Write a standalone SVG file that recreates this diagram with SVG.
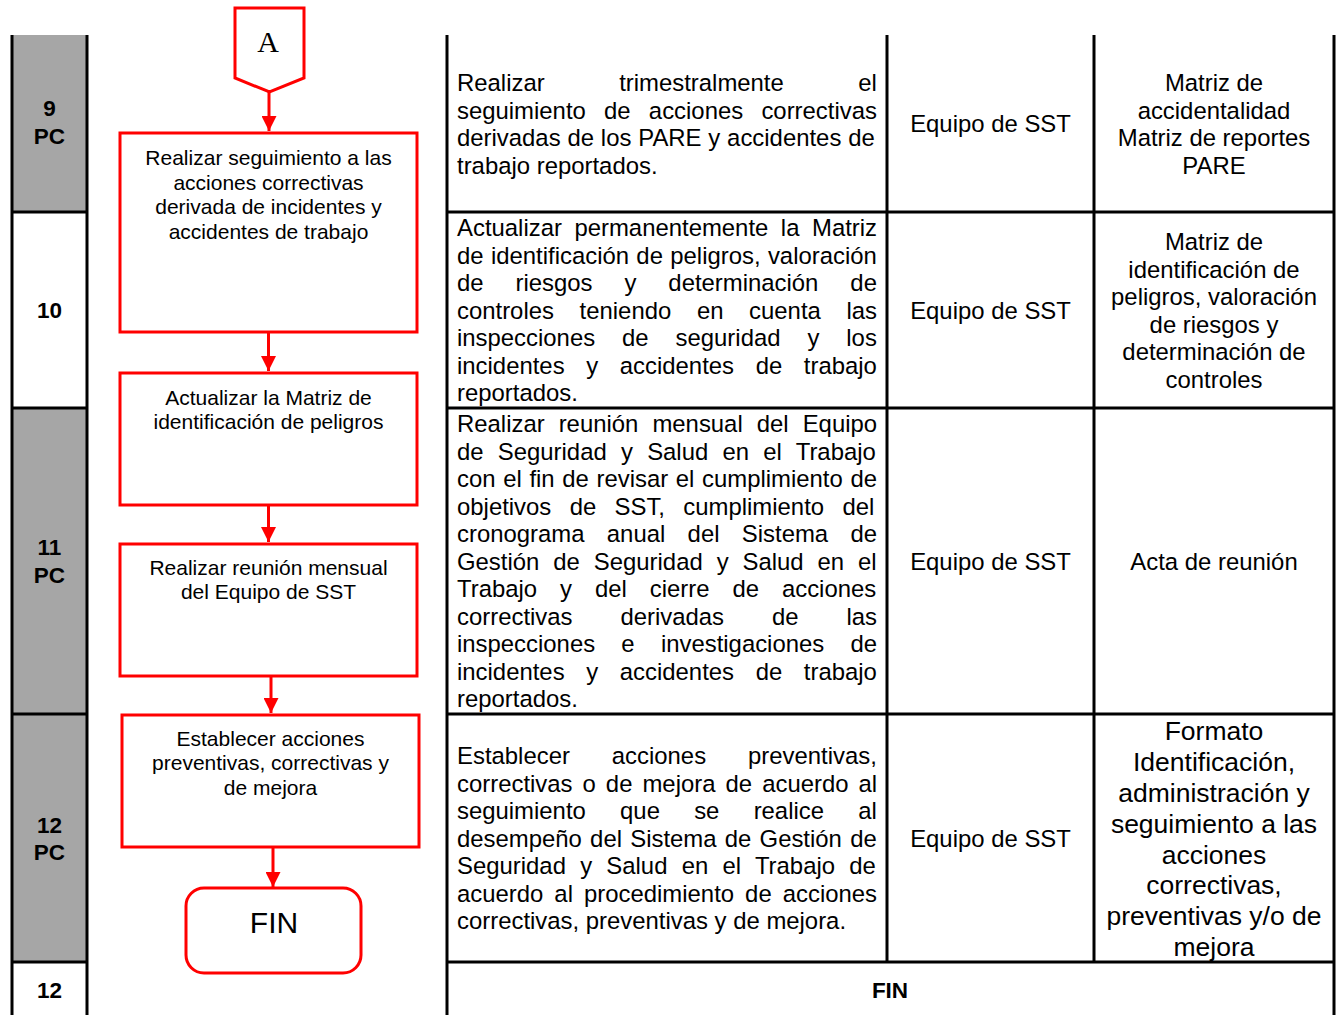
<svg xmlns="http://www.w3.org/2000/svg" width="1341" height="1015" viewBox="0 0 1341 1015">
<style>
.grid{stroke:#000;stroke-width:3;fill:none}
.gray{fill:#A6A6A6}
.node{fill:#fff;stroke:#FF0000;stroke-width:3}
.conn{stroke:#FF0000;stroke-width:3;fill:none}
.lbl{font-family:"Liberation Sans",Arial,sans-serif;font-weight:bold;font-size:22.5px;fill:#000;text-anchor:middle}
.bx{font-family:"Liberation Sans",Arial,sans-serif;font-size:21px;fill:#000;text-anchor:middle}
.desc{font-family:"Liberation Sans",Arial,sans-serif;font-size:23.9px;fill:#000}
.ctr{font-family:"Liberation Sans",Arial,sans-serif;font-size:23.9px;fill:#000;text-anchor:middle}
.big{font-family:"Liberation Sans",Arial,sans-serif;font-size:26.5px;fill:#000;text-anchor:middle}
</style>
<defs>
<marker id="ah" markerWidth="5" markerHeight="5" refX="5" refY="2.5" orient="auto" markerUnits="strokeWidth">
<path d="M0,0 L5,2.5 L0,5 Z" fill="#FF0000"/>
</marker>
</defs>
<rect width="1341" height="1015" fill="#fff"/>
<g id="table">
<rect class="gray" x="12" y="35" width="75" height="177"/>
<rect class="gray" x="12" y="408" width="75" height="554"/>
<path class="grid" d="M12,35 V1015 M87,35 V1015 M447,35 V1015 M887,35 V962 M1094,35 V962 M1334,35 V1015"/>
<path class="grid" d="M12,212 H87 M12,408 H87 M12,714 H87 M12,962 H87 M447,212 H1334 M447,408 H1334 M447,714 H1334 M447,962 H1334"/>
</g>
<g id="step-labels">
<text class="lbl" x="49.5" y="116">9</text>
<text class="lbl" x="49.5" y="144">PC</text>
<text class="lbl" x="49.5" y="318">10</text>
<text class="lbl" x="49.5" y="555">11</text>
<text class="lbl" x="49.5" y="583">PC</text>
<text class="lbl" x="49.5" y="833">12</text>
<text class="lbl" x="49.5" y="860">PC</text>
<text class="lbl" x="49.5" y="998">12</text>
<text class="lbl" x="890" y="998">FIN</text>
</g>
<g id="descriptions">
<text class="desc" x="457" y="91" style="word-spacing:67.9px">Realizar trimestralmente el</text>
<text class="desc" x="457" y="118.5" style="word-spacing:11.6px">seguimiento de acciones correctivas</text>
<text class="desc" x="457" y="146" style="word-spacing:0.2px">derivadas de los PARE y accidentes de</text>
<text class="desc" x="457" y="173.5">trabajo reportados.</text>

<text class="desc" x="457" y="236" style="word-spacing:5.9px">Actualizar permanentemente la Matriz</text>
<text class="desc" x="457" y="263.5" style="word-spacing:0.7px">de identificación de peligros, valoración</text>
<text class="desc" x="457" y="291" style="word-spacing:25.3px">de riesgos y determinación de</text>
<text class="desc" x="457" y="318.5" style="word-spacing:19px">controles teniendo en cuenta las</text>
<text class="desc" x="457" y="346" style="word-spacing:20.3px">inspecciones de seguridad y los</text>
<text class="desc" x="457" y="373.5" style="word-spacing:15px">incidentes y accidentes de trabajo</text>
<text class="desc" x="457" y="401">reportados.</text>

<text class="desc" x="457" y="432" style="word-spacing:7.4px">Realizar reunión mensual del Equipo</text>
<text class="desc" x="457" y="459.5" style="word-spacing:7.6px">de Seguridad y Salud en el Trabajo</text>
<text class="desc" x="457" y="487" style="word-spacing:1px">con el fin de revisar el cumplimiento de</text>
<text class="desc" x="457" y="514.5" style="word-spacing:11.7px">objetivos de SST, cumplimiento del</text>
<text class="desc" x="457" y="542" style="word-spacing:15.7px">cronograma anual del Sistema de</text>
<text class="desc" x="457" y="569.5" style="word-spacing:7.3px">Gestión de Seguridad y Salud en el</text>
<text class="desc" x="457" y="597" style="word-spacing:16.3px">Trabajo y del cierre de acciones</text>
<text class="desc" x="457" y="624.5" style="word-spacing:41.3px">correctivas derivadas de las</text>
<text class="desc" x="457" y="652" style="word-spacing:19.6px">inspecciones e investigaciones de</text>
<text class="desc" x="457" y="679.5" style="word-spacing:15px">incidentes y accidentes de trabajo</text>
<text class="desc" x="457" y="707">reportados.</text>

<text class="desc" x="457" y="764" style="word-spacing:35.3px">Establecer acciones preventivas,</text>
<text class="desc" x="457" y="791.5" style="word-spacing:3.4px">correctivas o de mejora de acuerdo al</text>
<text class="desc" x="457" y="819" style="word-spacing:27.6px">seguimiento que se realice al</text>
<text class="desc" x="457" y="846.5" style="word-spacing:1.6px">desempeño del Sistema de Gestión de</text>
<text class="desc" x="457" y="874" style="word-spacing:7.6px">Seguridad y Salud en el Trabajo de</text>
<text class="desc" x="457" y="901.5" style="word-spacing:4.4px">acuerdo al procedimiento de acciones</text>
<text class="desc" x="457" y="929">correctivas, preventivas y de mejora.</text>
</g>
<g id="responsables">
<text class="ctr" x="990.5" y="132">Equipo de SST</text>
<text class="ctr" x="990.5" y="319">Equipo de SST</text>
<text class="ctr" x="990.5" y="570">Equipo de SST</text>
<text class="ctr" x="990.5" y="847">Equipo de SST</text>
</g>
<g id="registros">
<text class="ctr" x="1214" y="91">Matriz de</text>
<text class="ctr" x="1214" y="118.5">accidentalidad</text>
<text class="ctr" x="1214" y="146">Matriz de reportes</text>
<text class="ctr" x="1214" y="173.5">PARE</text>
<text class="ctr" x="1214" y="250">Matriz de</text>
<text class="ctr" x="1214" y="277.5">identificación de</text>
<text class="ctr" x="1214" y="305">peligros, valoración</text>
<text class="ctr" x="1214" y="332.5">de riesgos y</text>
<text class="ctr" x="1214" y="360">determinación de</text>
<text class="ctr" x="1214" y="387.5">controles</text>
<text class="ctr" x="1214" y="570">Acta de reunión</text>
<text class="big" x="1214" y="740">Formato</text>
<text class="big" x="1214" y="771">Identificación,</text>
<text class="big" x="1214" y="802">administración y</text>
<text class="big" x="1214" y="833">seguimiento a las</text>
<text class="big" x="1214" y="863.5">acciones</text>
<text class="big" x="1214" y="894">correctivas,</text>
<text class="big" x="1214" y="925">preventivas y/o de</text>
<text class="big" x="1214" y="955.5">mejora</text>
</g>
<g id="connectors">
<line class="conn" x1="269" y1="92" x2="269" y2="131" marker-end="url(#ah)"/>
<line class="conn" x1="268.5" y1="332" x2="268.5" y2="371" marker-end="url(#ah)"/>
<line class="conn" x1="268.5" y1="505" x2="268.5" y2="542" marker-end="url(#ah)"/>
<line class="conn" x1="271" y1="676" x2="271" y2="713" marker-end="url(#ah)"/>
<line class="conn" x1="273" y1="847" x2="273" y2="887" marker-end="url(#ah)"/>
</g>
<g id="node-A">
<polygon class="node" points="235,8 304,8 304,78 269.5,92 235,78"/>
<text x="268" y="52" style="font-family:'Liberation Serif','Times New Roman',serif;font-size:30px;text-anchor:middle;fill:#000">A</text>
</g>
<g id="node-1">
<rect class="node" x="120" y="133" width="297" height="199"/>
<text class="bx" x="268.5" y="165">Realizar seguimiento a las</text>
<text class="bx" x="268.5" y="189.5">acciones correctivas</text>
<text class="bx" x="268.5" y="214">derivada de incidentes y</text>
<text class="bx" x="268.5" y="238.5">accidentes de trabajo</text>
</g>
<g id="node-2">
<rect class="node" x="120" y="373" width="297" height="132"/>
<text class="bx" x="268.5" y="404.5">Actualizar la Matriz de</text>
<text class="bx" x="268.5" y="429">identificación de peligros</text>
</g>
<g id="node-3">
<rect class="node" x="120" y="544" width="297" height="132"/>
<text class="bx" x="268.5" y="574.5">Realizar reunión mensual</text>
<text class="bx" x="268.5" y="599">del Equipo de SST</text>
</g>
<g id="node-4">
<rect class="node" x="122" y="715" width="297" height="132"/>
<text class="bx" x="270.5" y="745.5">Establecer acciones</text>
<text class="bx" x="270.5" y="770">preventivas, correctivas y</text>
<text class="bx" x="270.5" y="794.5">de mejora</text>
</g>
<g id="node-fin">
<rect class="node" x="186" y="888" width="175" height="85" rx="18" ry="18"/>
<text x="274" y="933" style="font-family:'Liberation Sans',Arial,sans-serif;font-size:30px;text-anchor:middle;fill:#000">FIN</text>
</g>
</svg>
